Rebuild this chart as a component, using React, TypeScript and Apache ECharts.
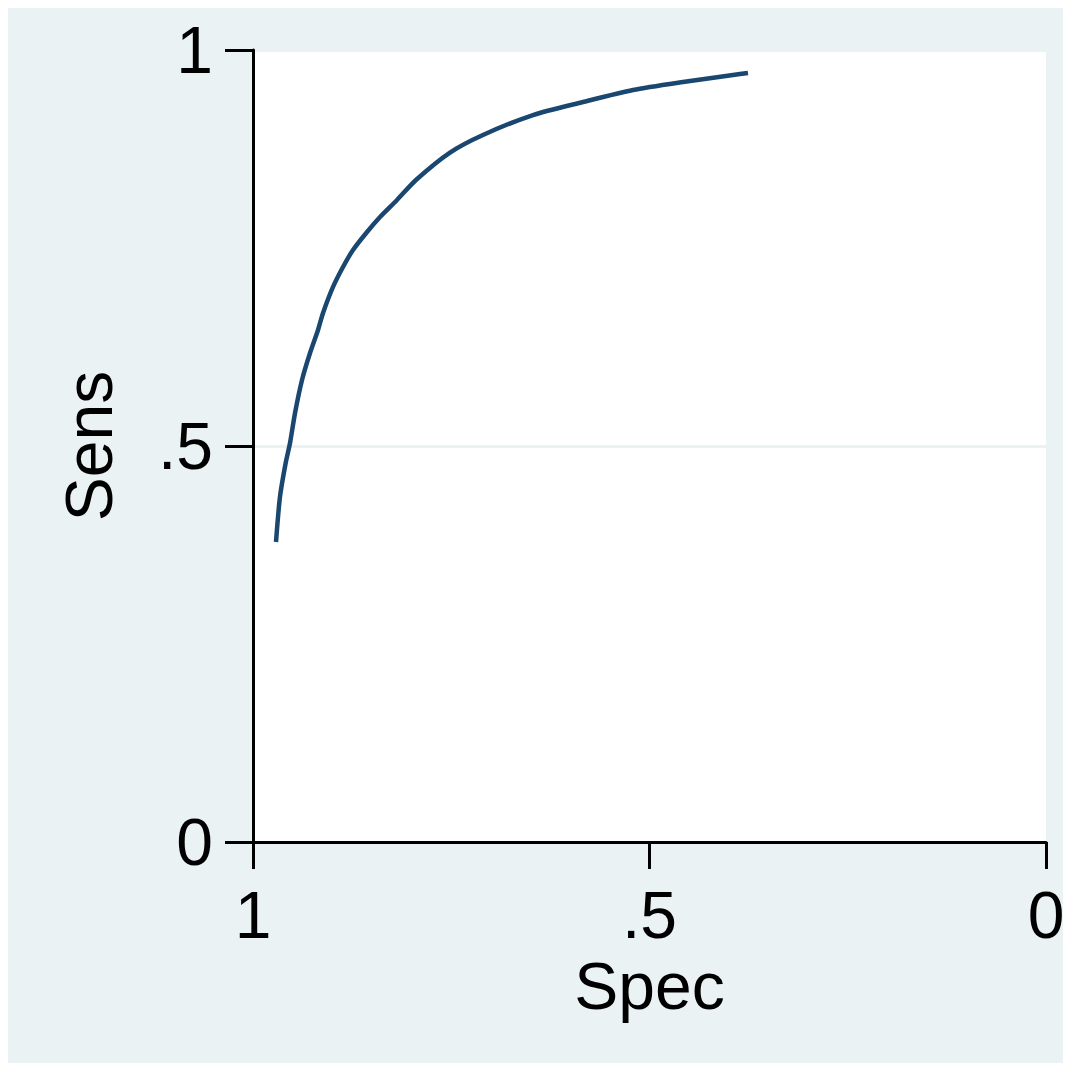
import React, { useEffect, useRef } from "react";
import * as echarts from "echarts";

// ROC-style curve: specificity (x, reversed) vs sensitivity (y)
const specValues = [
  0.971, 0.966, 0.9588, 0.9533, 0.947, 0.9382, 0.9281, 0.918, 0.9117, 0.8991,
  0.8865, 0.8739, 0.8562, 0.8398, 0.8184, 0.7945, 0.7516, 0.71, 0.6469,
  0.5839, 0.5208, 0.4578, 0.3947, 0.3758,
];
const sensValues = [
  0.3788, 0.4356, 0.4785, 0.5038, 0.5417, 0.5833, 0.6174, 0.6465, 0.6679,
  0.7008, 0.726, 0.7475, 0.7702, 0.7891, 0.8106, 0.8359, 0.8705, 0.8927,
  0.9179, 0.9343, 0.9495, 0.9596, 0.9684, 0.971,
];
const tickLabels: Record<string, string> = { "0": "0", "0.5": ".5", "1": "1" };
const xTitle = "Spec";
const yTitle = "Sens";

const FONT = "Liberation Sans, Arial, Helvetica, sans-serif";
const BG = "#EAF2F3";
const LINE = "#1A476F";

export default function App() {
  const ref = useRef<HTMLDivElement>(null);
  useEffect(() => {
    if (!ref.current) return;
    const chart = echarts.init(ref.current, undefined, { renderer: "svg" });
    const fmt = (v: number) => tickLabels[String(v)] ?? String(v);
    chart.setOption({
      animation: false,
      backgroundColor: BG,
      grid: {
        left: 245,
        right: 17,
        top: 42,
        bottom: 221,
        show: true,
        backgroundColor: "#FFFFFF",
        borderWidth: 0,
        containLabel: false,
        outerBoundsMode: "none",
      },
      xAxis: {
        type: "value",
        inverse: true,
        min: 0,
        max: 1,
        interval: 0.5,
        name: xTitle,
        nameLocation: "middle",
        nameGap: 106,
        nameTextStyle: { fontFamily: FONT, fontSize: 66, color: "#000" },
        axisLine: { show: true, onZero: false, lineStyle: { color: "#000", width: 3 } },
        axisTick: { show: true, length: 27, lineStyle: { color: "#000", width: 3 } },
        axisLabel: { margin: 40, fontFamily: FONT, fontSize: 66, color: "#000", formatter: fmt },
        splitLine: { show: false },
      },
      yAxis: {
        type: "value",
        min: 0,
        max: 1,
        interval: 0.5,
        name: yTitle,
        nameLocation: "middle",
        nameRotate: 90,
        nameGap: 131,
        nameTextStyle: { fontFamily: FONT, fontSize: 66, color: "#000" },
        axisLine: { show: true, onZero: false, lineStyle: { color: "#000", width: 3 } },
        axisTick: { show: true, length: 28, lineStyle: { color: "#000", width: 3 } },
        axisLabel: { margin: 40, fontFamily: FONT, fontSize: 66, color: "#000", formatter: fmt },
        splitLine: { show: true, lineStyle: { color: BG, width: 3 } },
      },
      series: [
        {
          type: "line",
          data: specValues.map((s, i) => [s, sensValues[i]]),
          showSymbol: false,
          smooth: 0.25,
          lineStyle: { color: LINE, width: 4.5 },
          itemStyle: { color: LINE },
        },
      ],
    });
    return () => chart.dispose();
  }, []);
  return <div ref={ref} style={{ width: 1055, height: 1055 }} />;
}
